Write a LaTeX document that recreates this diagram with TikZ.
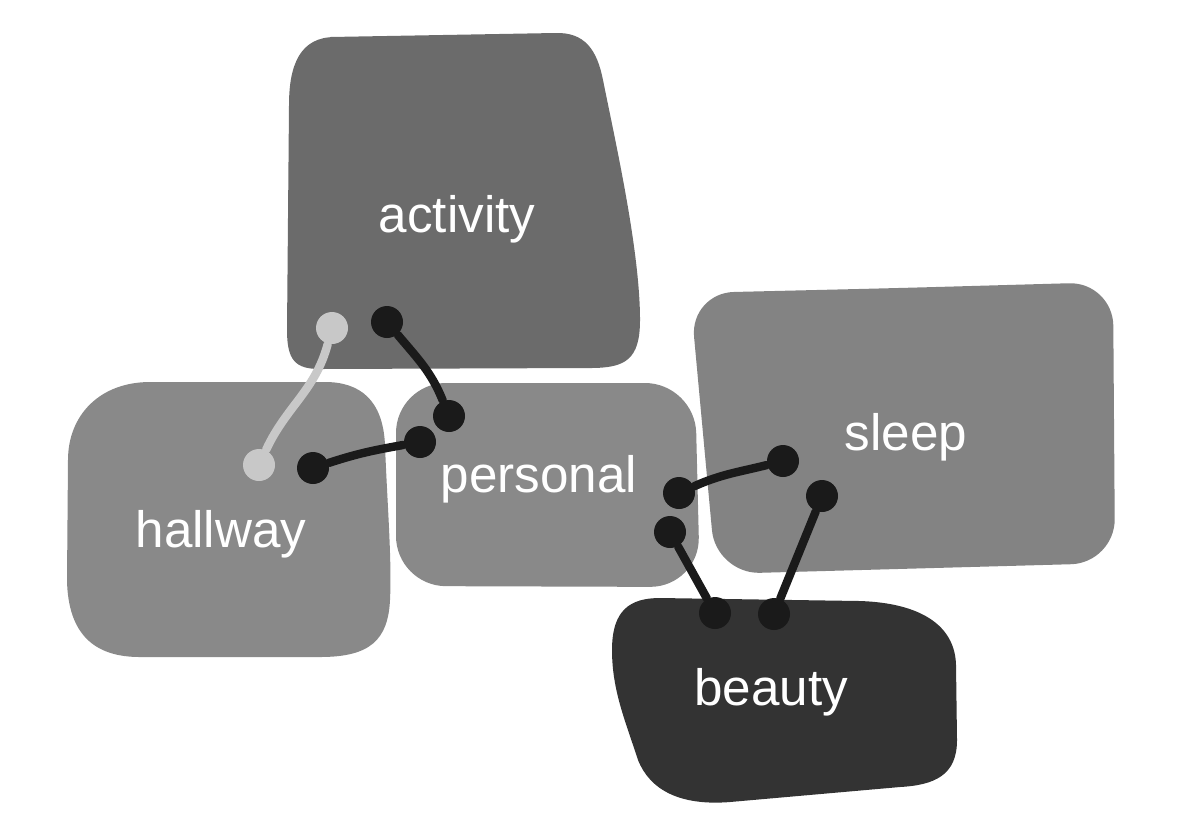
\documentclass[tikz,border=0pt]{standalone}
\usepackage{fontspec}
\setmainfont{Liberation Sans}
\usetikzlibrary{positioning}

\definecolor{activitygray}{HTML}{6B6B6B}
\definecolor{roomgray}{HTML}{898989}
\definecolor{sleepgray}{HTML}{838383}
\definecolor{beautygray}{HTML}{333333}
\definecolor{wireblack}{HTML}{1A1A1A}
\definecolor{wirelight}{HTML}{C8C8C8}

\tikzset{
  roomname/.style={text=white, font=\fontsize{12.8}{15}\selectfont, anchor=base, inner sep=0pt},
  plug/.style={circle, fill=wireblack, minimum size=8pt, inner sep=0pt},
  lightplug/.style={plug, fill=wirelight},
  wire/.style={draw=wireblack, line width=2.1pt, line cap=round},
  lightwire/.style={wire, draw=wirelight}
}

\begin{document}
\begin{tikzpicture}[x=0.25pt, y=-0.25pt]
  \useasboundingbox (0,0) rectangle (1185,837);

  % rooms (hand-drawn rounded blobs)
  \fill[activitygray] (330,37) -- (555,33) .. controls (585,32) and (597,50) .. (603,80)
    .. controls (615,140) and (640,250) .. (640,320) .. controls (640,360) and (625,368) .. (590,368)
    -- (320,369) .. controls (295,369) and (287,360) .. (287,330) -- (289,105)
    .. controls (289,65) and (300,37) .. (335,37) -- cycle;
  \fill[roomgray] (150,382) -- (325,382) .. controls (360,382) and (383,400) .. (385,445)
    .. controls (387,500) and (392,560) .. (390,600) .. controls (388,640) and (370,657) .. (320,657)
    -- (140,657) .. controls (95,657) and (68,635) .. (67,580) -- (68,460)
    .. controls (68,415) and (100,382) .. (150,382) -- cycle;
  \fill[roomgray, rounded corners=12.5pt] (550,383) -- (695,383) -- (700,587) -- (396,586) -- (396,383) -- cycle;
  \fill[sleepgray, rounded corners=11pt] (900,288) -- (1113,282) -- (1115,563) -- (716,574) -- (690,293) -- cycle;
  \fill[beautygray] (660,598) -- (860,601) .. controls (920,603) and (955,625) .. (956,665)
    -- (957,740) .. controls (957,775) and (935,785) .. (900,787) -- (730,802)
    .. controls (680,806) and (650,790) .. (638,760) .. controls (625,720) and (612,690) .. (612,650)
    .. controls (612,610) and (630,598) .. (660,598) -- cycle;

  % room names
  \node[roomname] (activity) at (457,232) {activity};
  \node[roomname] (hallway) at (221,547) {hallway};
  \node[roomname] (personal) at (539,492) {personal};
  \node[roomname] (sleep) at (906,450) {sleep};
  \node[roomname] (beauty) at (771,705) {beauty};

  % plugs
  \node[lightplug] (ga) at (332,328) {};
  \node[lightplug] (gh) at (259,465) {};
  \node[plug] (aa) at (387,322) {};
  \node[plug] (ap) at (449,416) {};
  \node[plug] (hh) at (313,468) {};
  \node[plug] (hp) at (420,442) {};
  \node[plug] (ps) at (679,493) {};
  \node[plug] (sp) at (783,461) {};
  \node[plug] (pb) at (670,532) {};
  \node[plug] (bp) at (715,613) {};
  \node[plug] (sb) at (822,496) {};
  \node[plug] (bs) at (774,614) {};

  % wires
  \draw[lightwire] (ga) to[out=-105, in=65] (gh);
  \draw[wire] (aa) to[out=-50, in=112] (ap);
  \draw[wire] (hh) to[out=18, in=190] (hp);
  \draw[wire] (ps) to[out=24, in=194] (sp);
  \draw[wire] (pb) -- (bp);
  \draw[wire] (sb) -- (bs);
\end{tikzpicture}
\end{document}
